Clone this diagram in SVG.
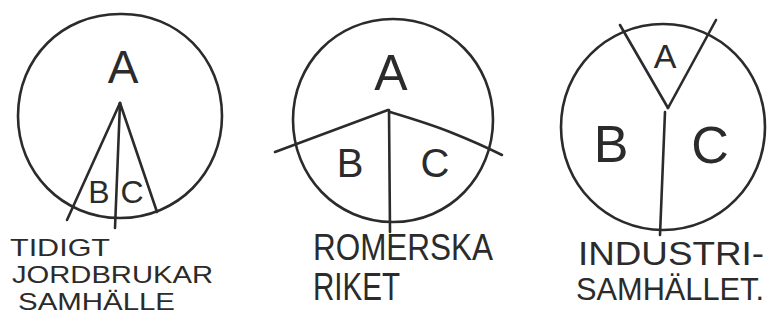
<svg xmlns="http://www.w3.org/2000/svg" width="776" height="320" viewBox="0 0 776 320">
<style>
.ln{fill:none;stroke:#2b2b2b;stroke-width:2.6;stroke-linecap:round;stroke-linejoin:round}
.t{font-family:"Liberation Sans",sans-serif;fill:#2b2b2b;text-anchor:middle}
.lb{font-family:"Liberation Sans",sans-serif;fill:#2b2b2b}
</style>
<rect width="776" height="320" fill="#ffffff"/>
<g id="diagram-1">
<path class="ln" d="M120,14 C178,13 222,58 222,116 C222,172 178,218 120,218 C62,218 18,172 18,116 C18,58 62,14 120,14 Z"/>
<g id="connectors-1">
<line class="ln" x1="120" y1="103" x2="67" y2="220"/>
<line class="ln" x1="120" y1="103" x2="157" y2="212"/>
<line class="ln" x1="120" y1="103" x2="115" y2="228"/>
</g>
<text class="t" x="123" y="83" font-size="46">A</text>
<text class="t" x="99" y="203" font-size="32">B</text>
<text class="t" x="132" y="203" font-size="32">C</text>
<text class="lb" x="10" y="256" font-size="24" textLength="100" lengthAdjust="spacingAndGlyphs">TIDIGT</text>
<text class="lb" x="12" y="283" font-size="24" textLength="201" lengthAdjust="spacingAndGlyphs">JORDBRUKAR</text>
<text class="lb" x="18" y="310" font-size="24" textLength="157" lengthAdjust="spacingAndGlyphs">SAMHÄLLE</text>
</g>
<g id="diagram-2">
<path class="ln" d="M393,19 C450,19 493,64 493,120 C493,176 450,222 393,222 C336,222 293,176 293,120 C293,64 336,19 393,19 Z"/>
<g id="connectors-2">
<line class="ln" x1="388" y1="110" x2="275" y2="152"/>
<path class="ln" d="M390,112 C410,118 430,124 450,132 C470,140 488,148 502,155"/>
<line class="ln" x1="389" y1="110" x2="390" y2="232"/>
</g>
<text class="t" x="391" y="90" font-size="50">A</text>
<text class="t" x="350" y="177" font-size="40">B</text>
<text class="t" x="435" y="177" font-size="40">C</text>
<text class="lb" x="313" y="260" font-size="36" textLength="180" lengthAdjust="spacingAndGlyphs">ROMERSKA</text>
<text class="lb" x="313" y="300" font-size="38" textLength="87" lengthAdjust="spacingAndGlyphs">RIKET</text>
</g>
<g id="diagram-3">
<path class="ln" d="M663,24 C720,24 765,70 765,127 C765,184 720,230 663,230 C606,230 561,184 561,127 C561,70 606,24 663,24 Z"/>
<g id="connectors-3">
<line class="ln" x1="620" y1="25" x2="668" y2="108"/>
<line class="ln" x1="716" y1="20" x2="668" y2="108"/>
<line class="ln" x1="665" y1="112" x2="660" y2="235"/>
</g>
<text class="t" x="665" y="68" font-size="34">A</text>
<text class="t" x="611" y="162" font-size="52">B</text>
<text class="t" x="710" y="163" font-size="52">C</text>
<text class="lb" x="578" y="265" font-size="33" textLength="186" lengthAdjust="spacingAndGlyphs">INDUSTRI-</text>
<text class="lb" x="576" y="300" font-size="32" textLength="188" lengthAdjust="spacingAndGlyphs">SAMHÄLLET.</text>
</g>
</svg>
